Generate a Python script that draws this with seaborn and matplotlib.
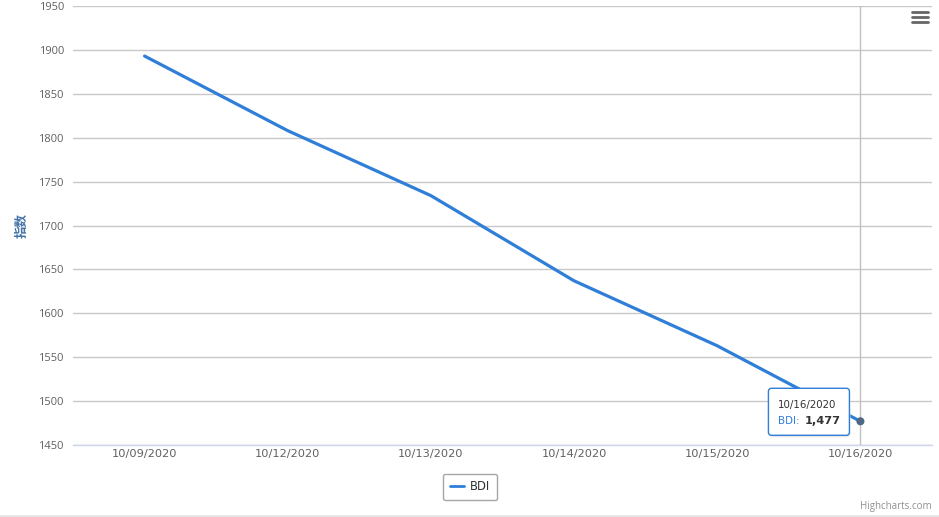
import numpy as np
import pandas as pd
import matplotlib
matplotlib.use('Agg')
import matplotlib.pyplot as plt
import seaborn as sns
from matplotlib.patches import FancyBboxPatch
from matplotlib.lines import Line2D
from matplotlib.transforms import IdentityTransform

# 데이터
dates = ['10/09/2020', '10/12/2020', '10/13/2020', '10/14/2020', '10/15/2020', '10/16/2020']
bdi = [1893, 1808, 1734, 1637, 1563, 1477]
series_name = 'BDI'
y_ticks = [1450, 1500, 1550, 1600, 1650, 1700, 1750, 1800, 1850, 1900, 1950]
y_label = '指数'

W, H = 939, 517
LINE_COLOR = '#2f7ed8'
WIDE = ['DejaVu Sans', 'Noto Sans CJK SC']

sns.set_theme(style='white')
plt.rcParams['font.family'] = ['Open Sans', 'Noto Sans CJK SC', 'DejaVu Sans']
plt.rcParams['axes.unicode_minus'] = False

df = pd.DataFrame({'date': dates, 'value': bdi})
df['pos'] = np.arange(len(df))

fig = plt.figure(figsize=(W / 100, H / 100), dpi=100)
ax = fig.add_axes([73 / W, 72 / H, 859 / W, 439 / H])

sns.lineplot(data=df, x='pos', y='value', ax=ax, color=LINE_COLOR,
             linewidth=2.3, legend=False, zorder=3)

# 크로스헤어 + 마지막 포인트
last = df.iloc[-1]
ax.axvline(last['pos'], color='#c0c0c0', linewidth=1, zorder=2)
ax.scatter([last['pos']], [last['value']], s=34, color='#4f6985', zorder=5,
           edgecolors='none')

ax.set_xlim(-0.5, len(dates) - 0.5)
ax.set_ylim(y_ticks[0], y_ticks[-1])
ax.set_yticks(y_ticks)
ax.set_xticks(df['pos'])
ax.set_xticklabels(dates, fontfamily=WIDE)
ax.set_xticks(np.arange(len(dates) + 1) - 0.5, minor=True)
ax.tick_params(axis='x', which='major', length=0, pad=3, labelsize=8.2, labelcolor='#606060')
ax.tick_params(axis='x', which='minor', length=5, width=1, color='#ccd6eb', direction='out')
ax.tick_params(axis='y', length=0, pad=6.5, labelsize=8, labelcolor='#606060')
ax.yaxis.grid(True, color='#c8c8c8', linewidth=1)
ax.set_axisbelow(True)
for side in ['top', 'right', 'left']:
    ax.spines[side].set_visible(False)
ax.spines['bottom'].set_color('#ccd6eb')
ax.spines['bottom'].set_linewidth(1)
ax.set_xlabel('')
ax.set_ylabel(y_label, color='#4572a7', fontsize=9, fontweight='bold')
ax.yaxis.set_label_coords((29 - 73) / 859, 0.5)

# 툴팁
fig.canvas.draw()
px, py = ax.transData.transform((last['pos'], last['value']))
box = FancyBboxPatch((px - 92, py - 14), 81, 47,
                     boxstyle='round,pad=0,rounding_size=3',
                     facecolor='white', edgecolor=LINE_COLOR, linewidth=1,
                     transform=IdentityTransform(), zorder=10)
shadow = FancyBboxPatch((px - 91, py - 16), 81, 47,
                        boxstyle='round,pad=0,rounding_size=3',
                        facecolor='#e8e8e8', edgecolor='none',
                        transform=IdentityTransform(), zorder=9)
fig.add_artist(shadow)
fig.add_artist(box)
fig.text(px - 82, py + 16, last['date'], transform=IdentityTransform(), family=WIDE,
         fontsize=7.4, color='#333333', va='center', ha='left', zorder=11)
fig.text(px - 82, py + 0, series_name + ':', transform=IdentityTransform(), family=WIDE,
         fontsize=7.4, color=LINE_COLOR, va='center', ha='left', zorder=11)
fig.text(px - 56, py + 0, f"{int(last['value']):,}", transform=IdentityTransform(),
         family=WIDE, fontsize=8.2, color='#333333', fontweight='bold',
         va='center', ha='left', zorder=11)

# 범례
handle = Line2D([], [], color=LINE_COLOR, linewidth=2)
leg = fig.legend(handles=[handle], labels=[series_name], loc='center',
                 bbox_to_anchor=(470 / W, 1 - 487 / H), frameon=True, fancybox=True,
                 handlelength=1.3, handletextpad=0.5,
                 borderpad=0.55, labelcolor='#333333',
                 prop={'family': WIDE, 'size': 8.3})
leg.get_frame().set_edgecolor('#909090')
leg.get_frame().set_linewidth(1)

# 크레딧
fig.text(932 / W, 1 - 507 / H, 'Highcharts.com', ha='right', va='center',
         color='#909090', fontsize=7)

# 메뉴 아이콘
for yy in [12, 17, 22]:
    fig.add_artist(Line2D([912 / W, 928 / W], [1 - yy / H, 1 - yy / H],
                          color='#666666', linewidth=2, solid_capstyle='round'))

# 하단 테두리
fig.add_artist(Line2D([0, 1], [1.5 / H, 1.5 / H], color='#e6e6e6', linewidth=2))

fig.savefig('out.png', dpi=100)
